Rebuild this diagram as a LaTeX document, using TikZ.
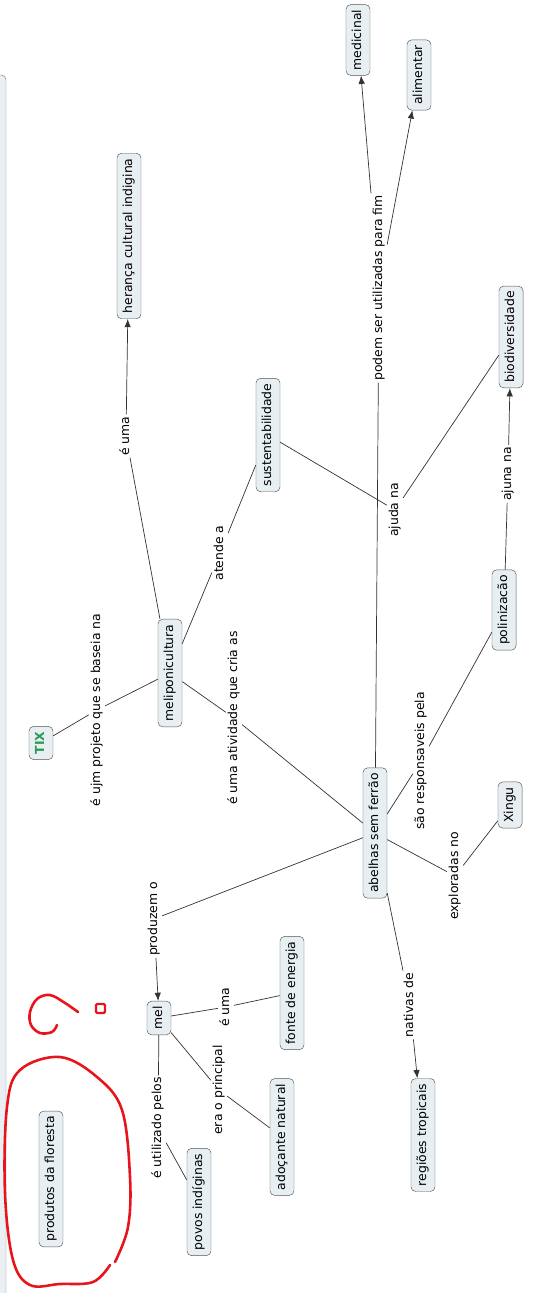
\documentclass[tikz,border=0pt]{standalone}
\usepackage{fontspec}
\setsansfont{DejaVu Sans}
\usetikzlibrary{arrows.meta}
\definecolor{conceptfill}{HTML}{E8EFF3}
\definecolor{conceptline}{HTML}{555555}
\definecolor{tixgreen}{HTML}{2F9A57}
\definecolor{markred}{HTML}{E8141B}
\definecolor{panelfill}{HTML}{E9EFF3}

\begin{document}
\begin{tikzpicture}[x=0.03cm,y=-0.03cm,
  concept/.style={draw=conceptline,fill=conceptfill,rounded corners=4pt,rotate=90,
    font=\sffamily\fontsize{10.6}{12}\selectfont,inner xsep=4.5pt,inner ysep=5pt,
    text height=8pt,text depth=2.5pt},
  linkword/.style={rotate=90,font=\sffamily\fontsize{10.6}{12}\selectfont,inner sep=1.5pt,
    text height=8pt,text depth=2.5pt},
  link/.style={draw=black!80,line width=0.6pt},
  arrowlink/.style={link,-{Latex[length=7pt,width=5.5pt]}}]

\useasboundingbox (0,0) rectangle (534,1293);
% side panel
\draw[fill=panelfill,draw=gray,rounded corners=4pt] (-30,75) rectangle (6,1330);

% concepts
\node[concept] (medicinal) at (358,40) {medicinal};
\node[concept] (alimentar) at (419,75) {alimentar};
\node[concept] (heranca) at (129,236) {herança cultural indigina};
\node[concept] (sustent) at (268,435) {sustentabilidade};
\node[concept] (biodiv) at (511,337) {biodiversidade};
\node[concept] (poliniz) at (504,610) {polinizacão};
\node[concept] (melipo) at (170,673) {meliponicultura};
\node[concept,text=tixgreen,font=\sffamily\bfseries\fontsize{10.6}{12}\selectfont] (tix) at (41,743) {TIX};
\node[concept] (abelhas) at (375,833) {abelhas sem ferrão};
\node[concept] (xingu) at (510,805) {Xingu};
\node[concept] (fonte) at (292,993) {fonte de energia};
\node[concept] (mel) at (159,1018) {mel};
\node[concept] (adocante) at (282,1137) {adoçante natural};
\node[concept] (regioes) at (423,1135) {regiões tropicais};
\node[concept] (produtos) at (51,1179) {produtos da floresta};
\node[concept] (povos) at (199,1202) {povos indíginas};

% linking words
\node[linkword] (euma) at (126,436) {é uma};
\node[linkword] (atende) at (220,553) {atende a};
\node[linkword] (projeto) at (97,710) {é ujm projeto que se baseia na};
\node[linkword] (atividade) at (234,718) {é uma atividade que cria as};
\node[linkword] (podem) at (379,288) {podem ser utilizadas para fim};
\node[linkword] (ajuda) at (395,510) {ajuda na};
\node[linkword] (ajuna) at (508,474) {ajuna na};
\node[linkword] (respons) at (421,761) {são responsaveis pela};
\node[linkword] (explor) at (455,876) {exploradas no};
\node[linkword] (produzem) at (154,919) {produzem o};
\node[linkword] (nativas) at (410,1005) {nativas de};
\node[linkword] (eumamel) at (226,1007) {é uma};
\node[linkword] (principal) at (219,1090) {era o principal};
\node[linkword] (utilizado) at (158,1128) {é utilizado pelos};

% connections
\draw[link] (melipo) -- (euma);
\draw[arrowlink] (euma) -- (heranca);
\draw[link] (melipo) -- (atende);
\draw[link] (atende) -- (sustent);
\draw[link] (tix) -- (projeto);
\draw[link] (projeto) -- (melipo);
\draw[link] (melipo) -- (atividade);
\draw[link] (atividade) -- (abelhas);
\draw[link] (abelhas) -- (podem);
\draw[arrowlink] (podem) -- (medicinal);
\draw[arrowlink] (podem) -- (alimentar);
\draw[link] (sustent) -- (ajuda);
\draw[link] (ajuda) -- (biodiv);
\draw[link] (poliniz) -- (ajuna);
\draw[arrowlink] (ajuna) -- (biodiv);
\draw[link] (abelhas) -- (respons);
\draw[link] (respons) -- (poliniz);
\draw[link] (abelhas) -- (explor);
\draw[link] (explor) -- (xingu);
\draw[link] (abelhas) -- (produzem);
\draw[arrowlink] (produzem) -- (mel);
\draw[link] (abelhas) -- (nativas);
\draw[arrowlink] (nativas) -- (regioes);
\draw[link] (mel) -- (eumamel);
\draw[link] (eumamel) -- (fonte);
\draw[link] (mel) -- (principal);
\draw[link] (principal) -- (adocante);
\draw[link] (mel) -- (utilizado);
\draw[link] (utilizado) -- (povos);

% hand-drawn marks
\draw[markred,line width=2.2pt,line cap=round] plot[smooth,tension=0.6] coordinates
  {(110,1265) (93,1282) (60,1284) (30,1285) (13,1260) (5,1193) (7,1107) (20,1070)
   (60,1057) (97,1077) (122,1110) (130,1177) (128,1227) (115,1262)};
\draw[markred,line width=2.2pt,line cap=round] plot[smooth,tension=0.6] coordinates
  {(78,1012) (65,1003) (50,995) (37,999) (30,1012) (31,1025) (40,1033) (52,1032) (57,1025)};
\draw[markred,line width=2pt,rounded corners=1pt] (96,1004) rectangle (105,1013);
\end{tikzpicture}
\end{document}
